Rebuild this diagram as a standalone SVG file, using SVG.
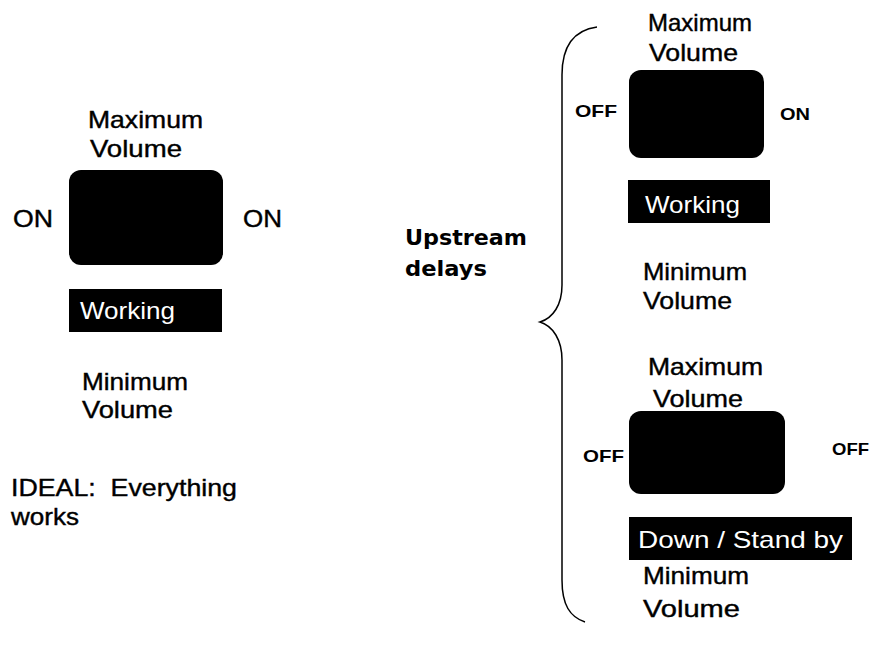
<svg xmlns="http://www.w3.org/2000/svg" width="874" height="646" viewBox="0 0 874 646">
  <style>
    .lbl { font-family: "Liberation Sans", Arial, sans-serif; font-size: 24px; fill: #000; stroke: #000; stroke-width: 0.4; white-space: pre; }
    .side { font-family: "Liberation Sans", Arial, sans-serif; font-size: 17px; font-weight: bold; fill: #000; }
    .state { font-family: "Liberation Sans", Arial, sans-serif; font-size: 24px; fill: #fff; }
    .up { font-family: "DejaVu Sans", Verdana, sans-serif; font-size: 22px; font-weight: bold; fill: #000; }
    .tank { fill: #000; }
    .bar { fill: #000; }
    .brace { fill: none; stroke: #000; stroke-width: 1.5; }
  </style>
  <rect width="874" height="646" fill="#fff"/>

  <!-- Ideal case: both sides on -->
  <g id="ideal">
    <text class="lbl" x="88" y="128" textLength="115" lengthAdjust="spacingAndGlyphs">Maximum</text>
    <text class="lbl" x="90" y="157" textLength="92" lengthAdjust="spacingAndGlyphs">Volume</text>
    <rect class="tank" x="69" y="170" width="154" height="95" rx="12"/>
    <text class="lbl" x="13" y="227" textLength="40" lengthAdjust="spacingAndGlyphs">ON</text>
    <text class="lbl" x="243" y="227" textLength="39" lengthAdjust="spacingAndGlyphs">ON</text>
    <rect class="bar" x="69" y="289" width="153" height="43"/>
    <text class="state" x="80" y="319" textLength="95" lengthAdjust="spacingAndGlyphs">Working</text>
    <text class="lbl" x="82" y="390" textLength="106" lengthAdjust="spacingAndGlyphs">Minimum</text>
    <text class="lbl" x="82" y="418" textLength="91" lengthAdjust="spacingAndGlyphs">Volume</text>
    <text class="lbl" x="11" y="496" textLength="226" lengthAdjust="spacingAndGlyphs">IDEAL:  Everything</text>
    <text class="lbl" x="11" y="525" textLength="68" lengthAdjust="spacingAndGlyphs">works</text>
  </g>

  <!-- Brace grouping the two delayed cases -->
  <g id="connectors">
    <path class="brace" d="M 597 27 C 575 30, 562 45, 562 75 L 562 285 C 562 305, 553 318, 540 322 C 553 326, 562 340, 562 360 L 562 580 C 562 605, 570 617, 585 622"/>
  </g>

  <g id="upstream">
    <text class="up" x="405" y="245" textLength="122" lengthAdjust="spacingAndGlyphs">Upstream</text>
    <text class="up" x="405" y="276" textLength="82" lengthAdjust="spacingAndGlyphs">delays</text>
  </g>

  <!-- Delayed case: inlet off, outlet on -->
  <g id="delay-working">
    <text class="lbl" x="648" y="31" textLength="104" lengthAdjust="spacingAndGlyphs">Maximum</text>
    <text class="lbl" x="649" y="61" textLength="89" lengthAdjust="spacingAndGlyphs">Volume</text>
    <rect class="tank" x="629" y="70" width="135" height="88" rx="12"/>
    <text class="side" x="575" y="117" textLength="42" lengthAdjust="spacingAndGlyphs">OFF</text>
    <text class="side" x="780" y="120" textLength="30" lengthAdjust="spacingAndGlyphs">ON</text>
    <rect class="bar" x="628" y="180" width="142" height="43"/>
    <text class="state" x="645" y="213" textLength="95" lengthAdjust="spacingAndGlyphs">Working</text>
    <text class="lbl" x="643" y="280" textLength="104" lengthAdjust="spacingAndGlyphs">Minimum</text>
    <text class="lbl" x="643" y="309" textLength="89" lengthAdjust="spacingAndGlyphs">Volume</text>
  </g>

  <!-- Delayed case: both sides off -->
  <g id="delay-standby">
    <text class="lbl" x="648" y="375" textLength="115" lengthAdjust="spacingAndGlyphs">Maximum</text>
    <text class="lbl" x="653" y="407" textLength="90" lengthAdjust="spacingAndGlyphs">Volume</text>
    <rect class="tank" x="629" y="411" width="156" height="83" rx="12"/>
    <text class="side" x="583" y="462" textLength="41" lengthAdjust="spacingAndGlyphs">OFF</text>
    <text class="side" x="832" y="455" textLength="37" lengthAdjust="spacingAndGlyphs">OFF</text>
    <rect class="bar" x="629" y="517" width="223" height="43"/>
    <text class="state" x="638" y="548" textLength="205" lengthAdjust="spacingAndGlyphs">Down / Stand by</text>
    <text class="lbl" x="643" y="584" textLength="106" lengthAdjust="spacingAndGlyphs">Minimum</text>
    <text class="lbl" x="643" y="617" textLength="97" lengthAdjust="spacingAndGlyphs">Volume</text>
  </g>
</svg>
